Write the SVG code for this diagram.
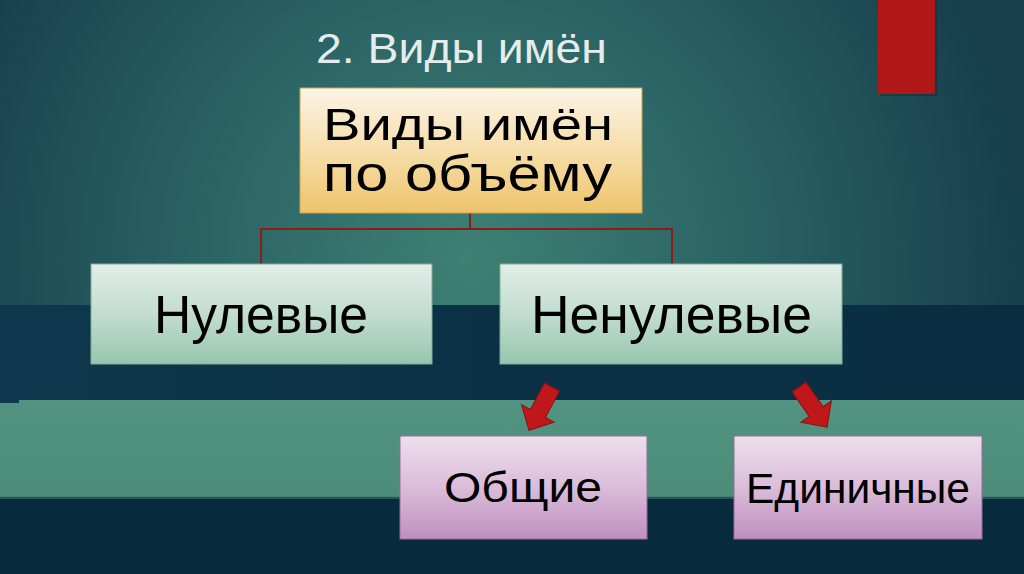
<svg xmlns="http://www.w3.org/2000/svg" width="1024" height="574" viewBox="0 0 1024 574">
<defs>
<radialGradient id="bgTop" cx="470" cy="260" r="560" gradientUnits="userSpaceOnUse">
<stop offset="0" stop-color="#3f8073"/>
<stop offset="0.5" stop-color="#2a6264"/>
<stop offset="1" stop-color="#163e4c"/>
</radialGradient>
<linearGradient id="darkBand" x1="0" y1="0" x2="1" y2="0">
<stop offset="0" stop-color="#0e384d"/>
<stop offset="0.5" stop-color="#0b3045"/>
<stop offset="1" stop-color="#0a2d42"/>
</linearGradient>
<linearGradient id="greenBand" x1="0" y1="0" x2="0" y2="1">
<stop offset="0" stop-color="#529381"/>
<stop offset="1" stop-color="#4c8c79"/>
</linearGradient>
<linearGradient id="gold" x1="0" y1="0" x2="0" y2="1">
<stop offset="0" stop-color="#fcf4e6"/>
<stop offset="0.5" stop-color="#f6deaa"/>
<stop offset="1" stop-color="#eec46a"/>
</linearGradient>
<linearGradient id="mint" x1="0" y1="0" x2="0" y2="1">
<stop offset="0" stop-color="#e2ede7"/>
<stop offset="0.5" stop-color="#c2ddd0"/>
<stop offset="1" stop-color="#98c5af"/>
</linearGradient>
<linearGradient id="lav" x1="0" y1="0" x2="0" y2="1">
<stop offset="0" stop-color="#eddfec"/>
<stop offset="0.5" stop-color="#dbbcd9"/>
<stop offset="1" stop-color="#bf8fbf"/>
</linearGradient>
<polygon id="arrow" points="0,-8.5 30,-8.5 30,-18.5 49,0 30,18.5 30,8.5 0,8.5"/>
</defs>
<style>
.t{font-family:"Liberation Sans","DejaVu Sans",sans-serif;fill:#000;}
.title{font-family:"Liberation Sans","DejaVu Sans",sans-serif;fill:#e4ecec;}
.conn{stroke:#8e1c1c;stroke-width:2;fill:none;}
.arr{fill:#c0171b;stroke:#8a1212;stroke-width:1;}
.gbox{fill:url(#gold);stroke:#c9a450;stroke-width:1;}
.mbox{fill:url(#mint);stroke:#7fae98;stroke-width:1;}
.lbox{fill:url(#lav);stroke:#9a6c9a;stroke-width:1;}
</style>

<!-- background -->
<rect x="0" y="0" width="1024" height="574" fill="#072a3c"/>
<rect x="0" y="0" width="1024" height="306" fill="url(#bgTop)"/>
<rect x="0" y="305" width="1024" height="96" fill="url(#darkBand)"/>
<rect x="0" y="400" width="1024" height="97" fill="url(#greenBand)"/>
<rect x="0" y="400" width="19" height="3" fill="#0e384d"/>
<rect x="0" y="496" width="1024" height="3" fill="#3f7770" opacity="0.6"/>

<!-- red bar -->
<rect x="880" y="0" width="57" height="96" fill="#0a2030" opacity="0.35"/>
<rect x="878" y="0" width="57" height="94" fill="#b01818"/>

<!-- title -->
<text class="title" x="316" y="63" font-size="42" textLength="291" lengthAdjust="spacingAndGlyphs">2. Виды имён</text>

<!-- connectors -->
<g id="connectors">
<path class="conn" d="M470,213 V229 M261,264 V229 H672 V264"/>
<use href="#arrow" class="arr" transform="translate(552,387) rotate(118)"/>
<use href="#arrow" class="arr" transform="translate(799,387) rotate(55)"/>
</g>

<g id="node-root">
<rect class="gbox" x="300" y="88" width="342" height="125"/>
<text class="t" x="323" y="140" font-size="45" textLength="290" lengthAdjust="spacingAndGlyphs">Виды имён</text>
<text class="t" x="323" y="191" font-size="50" textLength="289" lengthAdjust="spacingAndGlyphs">по объёму</text>
</g>

<g id="node-null">
<rect class="mbox" x="91" y="264" width="341" height="100"/>
<text class="t" x="154" y="333" font-size="53" textLength="214" lengthAdjust="spacingAndGlyphs">Нулевые</text>
</g>

<g id="node-nonnull">
<rect class="mbox" x="500" y="264" width="342" height="100"/>
<text class="t" x="531" y="333" font-size="53" textLength="281" lengthAdjust="spacingAndGlyphs">Ненулевые</text>
</g>

<g id="node-general">
<rect class="lbox" x="400" y="436" width="247" height="103"/>
<text class="t" x="444" y="502" font-size="42" textLength="158" lengthAdjust="spacingAndGlyphs">Общие</text>
</g>

<g id="node-single">
<rect class="lbox" x="734" y="436" width="248" height="103"/>
<text class="t" x="746" y="503" font-size="42" textLength="224" lengthAdjust="spacingAndGlyphs">Единичные</text>
</g>
</svg>
